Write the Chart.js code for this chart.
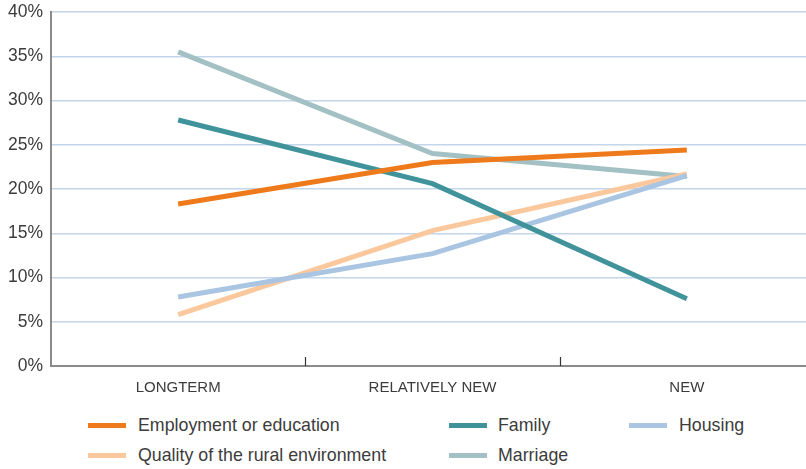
<!DOCTYPE html>
<html>
<head>
<meta charset="utf-8">
<script src="https://cdn.jsdelivr.net/npm/chart.js@4.4.1/dist/chart.umd.min.js"></script>
<style>
    html, body { margin: 0; padding: 0; background: #fff; overflow: hidden; }
    #wrap { position: relative; width: 806px; height: 469px; overflow: hidden; }
    #chart { position: absolute; left: 0; top: 0; }
    .lg { position: absolute; font-family: "Liberation Sans", Arial, sans-serif; font-size: 17.8px; color: #3c3c3c; white-space: nowrap; }
    .lg .sw { position: absolute; width: 38px; height: 5px; }
</style>
</head>
<body>
<div id="wrap">
    <canvas id="chart" width="814" height="400"></canvas>
</div>
<script>
    var categories = ['LONGTERM', 'RELATIVELY NEW', 'NEW'];
    var yTicks = [0, 5, 10, 15, 20, 25, 30, 35, 40];

    var employment = [18.3, 23.0, 24.4];
    var family = [27.8, 20.6, 7.6];
    var housing = [7.8, 12.7, 21.5];
    var rural = [5.8, 15.3, 21.7];
    var marriage = [35.5, 24.0, 21.4];

    var seriesNames = ['Employment or education', 'Family', 'Housing', 'Quality of the rural environment', 'Marriage'];
    var seriesData = [employment, family, housing, rural, marriage];
    var seriesColors = ['#ee7a1b', '#40939a', '#a9c5e2', '#fbc89e', '#a3c1c4'];

    // legend slots (3 columns, row-major)
    var legendPos = [
        { x: 88, y: 426, tx: 138 },
        { x: 449, y: 426, tx: 498 },
        { x: 629, y: 426, tx: 679 },
        { x: 88, y: 456, tx: 138 },
        { x: 449, y: 456, tx: 498 }
    ];

    var wrap = document.getElementById('wrap');
    seriesNames.forEach(function(name, i) {
        var p = legendPos[i];
        var item = document.createElement('div');
        item.className = 'lg';
        item.style.left = p.tx + 'px';
        item.style.top = (p.y - 11) + 'px';
        item.textContent = name;
        var sw = document.createElement('span');
        sw.className = 'sw';
        sw.style.left = (p.x - p.tx) + 'px';
        sw.style.top = '8px';
        sw.style.background = seriesColors[i];
        item.appendChild(sw);
        wrap.appendChild(item);
    });

    // small upward tick marks between categories
    var categoryTicks = {
        id: 'categoryTicks',
        afterDraw: function(chart) {
            var xs = chart.scales.x;
            var ctx = chart.ctx;
            var bottom = chart.chartArea.bottom;
            ctx.save();
            ctx.strokeStyle = '#333';
            ctx.lineWidth = 1.2;
            for (var i = 1; i < categories.length; i++) {
                var x = Math.round((xs.getPixelForTick(i - 1) + xs.getPixelForTick(i)) / 2) + 0.5;
                ctx.beginPath();
                ctx.moveTo(x, bottom - 9);
                ctx.lineTo(x, bottom);
                ctx.stroke();
            }
            ctx.restore();
        }
    };

    new Chart(document.getElementById('chart'), {
        type: 'line',
        data: {
            labels: categories,
            datasets: seriesNames.map(function(name, i) {
                return {
                    label: name,
                    data: seriesData[i],
                    borderColor: seriesColors[i],
                    backgroundColor: seriesColors[i],
                    borderWidth: 5,
                    pointRadius: 0,
                    tension: 0,
                    fill: false
                };
            })
        },
        options: {
            responsive: false,
            animation: false,
            layout: { padding: { top: 12, right: 0, left: 0, bottom: 0 } },
            plugins: {
                legend: { display: false },
                tooltip: { enabled: false }
            },
            scales: {
                x: {
                    offset: true,
                    afterFit: function(scale) { scale.height = 34; },
                    grid: { display: false, drawTicks: false },
                    border: { color: '#8a8a8a', width: 2 },
                    ticks: {
                        color: '#3c3c3c',
                        padding: 13,
                        maxRotation: 0,
                        font: { family: '"Liberation Sans", Arial, sans-serif', size: 15 }
                    }
                },
                y: {
                    min: 0,
                    max: 40,
                    afterFit: function(scale) {
                        scale.width = 51;
                        scale.paddingTop = 0;
                        scale.paddingBottom = 0;
                    },
                    afterBuildTicks: function(scale) {
                        scale.ticks = yTicks.map(function(v) { return { value: v }; });
                    },
                    grid: { color: '#c3d6ea', lineWidth: 1.5, drawTicks: false },
                    border: { color: '#8a8a8a', width: 2 },
                    ticks: {
                        color: '#3c3c3c',
                        padding: 8,
                        font: { family: '"Liberation Sans", Arial, sans-serif', size: 17.5 },
                        callback: function(v) { return v + '%'; }
                    }
                }
            }
        },
        plugins: [categoryTicks]
    });
</script>
</body>
</html>
